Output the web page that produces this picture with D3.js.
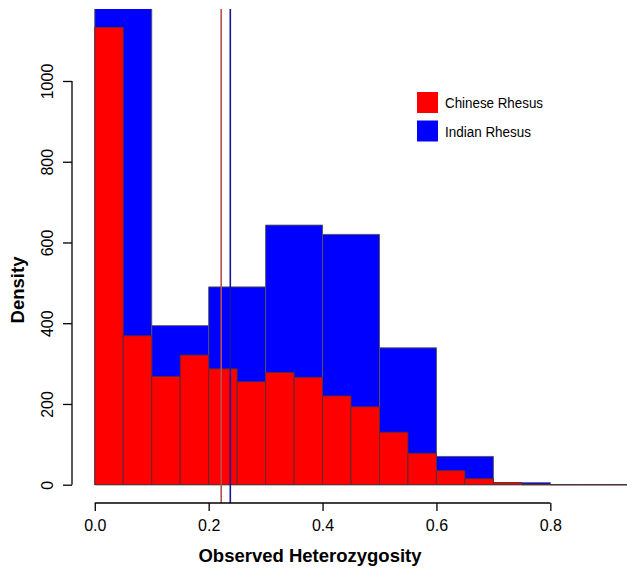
<!DOCTYPE html>
<html>
<head>
<meta charset="utf-8">
<script src="https://cdn.jsdelivr.net/npm/d3@7"></script>
<style>
  body { margin: 0; background: #fff; }
  svg { display: block; font-family: "Liberation Sans", Arial, sans-serif; }
</style>
</head>
<body>
<svg id="chart" width="627" height="570"></svg>
<script>
// bin edges (width 0.05 for Chinese, 0.1 for Indian)
var chineseBreaks = [0, 0.05, 0.1, 0.15, 0.2, 0.25, 0.3, 0.35, 0.4, 0.45, 0.5,
                     0.55, 0.6, 0.65, 0.7, 0.75, 0.8, 0.85, 0.9, 0.95, 1.0];
var chineseDensity = [1133, 369, 268, 321, 287, 255, 278, 266, 220, 193,
                      130, 78, 35, 15, 5, 0, 0, 0, 0, 0];

var indianBreaks = [0, 0.1, 0.2, 0.3, 0.4, 0.5, 0.6, 0.7, 0.8, 0.9, 1.0];
var indianDensity = [1190, 394, 490, 643, 620, 339, 70, 5, 0, 0];

// mean heterozygosity lines
var meanLines = [
  { name: "Chinese Rhesus", value: 0.222, color: "#b9504c" },
  { name: "Indian Rhesus",  value: 0.238, color: "#1515a0" }
];

var legendItems = [
  { label: "Chinese Rhesus", fill: "#ff0000" },
  { label: "Indian Rhesus",  fill: "#0000ff" }
];

var xTicks = [0, 0.2, 0.4, 0.6, 0.8];
var yTicks = [0, 200, 400, 600, 800, 1000];

var yMax = d3.max(chineseDensity);

// plot region (R style, 4% padding on both axes)
var plot = { left: 72, right: 687, top: 9, bottom: 503 };

let chart = d3.select("#chart");

let x = d3.scaleLinear()
          .domain([-0.04, 1.04])
          .range([plot.left, plot.right]);

let y = d3.scaleLinear()
          .domain([-0.04 * yMax, yMax * 1.04])
          .range([plot.bottom, plot.top]);

chart.append("defs").append("clipPath")
     .attr("id", "plotclip")
     .append("rect")
       .attr("x", plot.left)
       .attr("y", plot.top)
       .attr("width", plot.right - plot.left)
       .attr("height", plot.bottom - plot.top);

let bars = chart.append("g").attr("clip-path", "url(#plotclip)");

function histPath(d) {
  var x0 = x(d.x0), x1 = x(d.x1), y0 = y(0), y1 = y(d.v);
  return "M" + x0 + "," + y0 + "V" + y1 + "H" + x1 + "V" + y0 + "Z";
}

function toBins(breaks, vals) {
  return vals.map(function(v, i) { return { x0: breaks[i], x1: breaks[i + 1], v: v }; });
}

// Indian bars behind
bars.selectAll("path.indian")
    .data(toBins(indianBreaks, indianDensity)).enter()
    .append("path")
      .attr("class", "indian")
      .attr("d", histPath)
      .attr("fill", "#0000ff")
      .attr("stroke", "#555")
      .attr("stroke-width", 0.9);

// Chinese bars in front
bars.selectAll("path.chinese")
    .data(toBins(chineseBreaks, chineseDensity)).enter()
    .append("path")
      .attr("class", "chinese")
      .attr("d", histPath)
      .attr("fill", "#ff0000")
      .attr("stroke", "#503030")
      .attr("stroke-width", 0.9);

// vertical mean lines
bars.selectAll("line.mean")
    .data(meanLines).enter()
    .append("line")
      .attr("class", "mean")
      .attr("x1", function(d) { return x(d.value); })
      .attr("x2", function(d) { return x(d.value); })
      .attr("y1", plot.top)
      .attr("y2", plot.bottom)
      .attr("stroke", function(d) { return d.color; })
      .attr("stroke-width", 1.6);

// x axis
let xAxis = chart.append("g")
     .attr("transform", "translate(0," + plot.bottom + ")")
     .call(d3.axisBottom(x).tickValues(xTicks).tickFormat(d3.format(".1f"))
             .tickSize(8).tickSizeOuter(0));
xAxis.select(".domain").remove();
xAxis.append("line")
     .attr("x1", x(xTicks[0])).attr("x2", x(xTicks[xTicks.length - 1]))
     .attr("stroke", "#000").attr("stroke-width", 1.3);
xAxis.selectAll(".tick line").attr("stroke-width", 1.3);
xAxis.selectAll(".tick text")
     .attr("y", 17)
     .attr("dy", "0.71em")
     .attr("font-size", 16)
     .attr("font-family", "Liberation Sans, Arial, sans-serif")
     .attr("fill", "#000");

// y axis
let yAxis = chart.append("g")
     .attr("transform", "translate(" + plot.left + ",0)")
     .call(d3.axisLeft(y).tickValues(yTicks).tickFormat(d3.format("d"))
             .tickSize(9).tickSizeOuter(0));
yAxis.select(".domain").remove();
yAxis.append("line")
     .attr("y1", y(yTicks[0])).attr("y2", y(yTicks[yTicks.length - 1]))
     .attr("stroke", "#000").attr("stroke-width", 1.3);
yAxis.selectAll(".tick line").attr("stroke-width", 1.3);
yAxis.selectAll(".tick text")
     .attr("x", null).attr("dy", null)
     .attr("transform", "translate(-19,0) rotate(-90)")
     .attr("text-anchor", "middle")
     .attr("font-size", 16)
     .attr("font-family", "Liberation Sans, Arial, sans-serif")
     .attr("fill", "#000");

// axis titles
chart.append("text")
     .attr("x", 310)
     .attr("y", 562)
     .attr("text-anchor", "middle")
     .attr("font-size", 18.5)
     .attr("font-weight", "bold")
     .text("Observed Heterozygosity");

chart.append("text")
     .attr("transform", "translate(24,290) rotate(-90)")
     .attr("text-anchor", "middle")
     .attr("font-size", 18.5)
     .attr("font-weight", "bold")
     .text("Density");

// legend
let legend = chart.selectAll("g.legend")
     .data(legendItems).enter()
     .append("g")
       .attr("class", "legend")
       .attr("transform", function(d, i) { return "translate(417," + (92 + i * 28.5) + ")"; });
legend.append("rect")
      .attr("width", 21).attr("height", 21)
      .attr("fill", function(d) { return d.fill; });
legend.append("text")
      .attr("x", 28).attr("y", 16)
      .attr("font-size", 14)
      .attr("textLength", function(d, i) { return i === 0 ? 98 : 86; })
      .attr("lengthAdjust", "spacingAndGlyphs")
      .text(function(d) { return d.label; });
</script>
</body>
</html>
